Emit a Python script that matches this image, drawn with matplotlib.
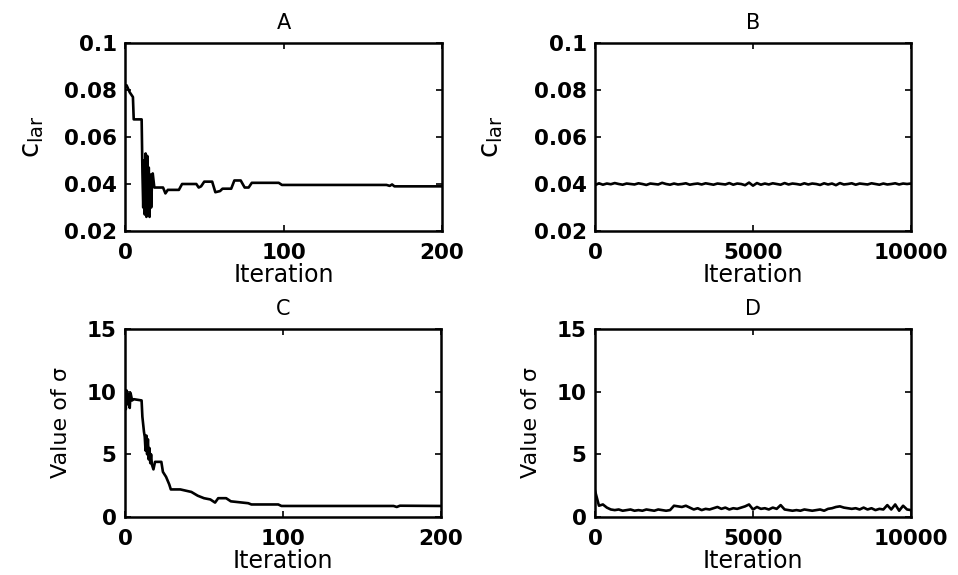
import numpy as np
import matplotlib
matplotlib.use('Agg')
import matplotlib.pyplot as plt

plt.rcParams['font.family'] = ['DejaVu Sans']
plt.rcParams['mathtext.fontset'] = 'dejavusans'

# panel A: c_lar over the first 200 iterations
a_iter = [0, 1, 2, 3, 4, 5, 5.5, 10.5, 11, 11.5, 12, 12.5, 13, 13.5, 14, 14.5, 15, 15.5,
          16, 16.5, 17, 17.5, 18.5, 24, 25.5, 27, 34, 36, 45, 46.5, 48, 50, 55, 57, 60,
          61.5, 67, 69, 73, 75.5, 78, 80, 97, 99, 165, 167, 168.5, 170, 200]
a_clar = [0.0815, 0.0820, 0.0805, 0.0790, 0.0780, 0.0770, 0.0675, 0.0675, 0.045, 0.030,
          0.050, 0.027, 0.053, 0.026, 0.052, 0.028, 0.047, 0.026, 0.044, 0.030, 0.040,
          0.0445, 0.0385, 0.0385, 0.0360, 0.0375, 0.0375, 0.0400, 0.0400, 0.0385, 0.0390,
          0.0410, 0.0410, 0.0365, 0.0370, 0.0380, 0.0380, 0.0415, 0.0415, 0.0385, 0.0385,
          0.0405, 0.0405, 0.0396, 0.0396, 0.0392, 0.0398, 0.0390, 0.0390]

# panel B: c_lar over 10000 iterations (sampled every 125)
b_clar = [0.0395, 0.0403, 0.0397, 0.0402, 0.0399, 0.0404, 0.0400, 0.0397, 0.0402, 0.0400,
          0.0398, 0.0403, 0.0400, 0.0396, 0.0402, 0.0400, 0.0398, 0.0405, 0.0400, 0.0397,
          0.0402, 0.0398, 0.0400, 0.0403, 0.0397, 0.0400, 0.0402, 0.0398, 0.0403, 0.0400,
          0.0397, 0.0402, 0.0400, 0.0398, 0.0404, 0.0397, 0.0402, 0.0400, 0.0395, 0.0406,
          0.0393, 0.0404, 0.0397, 0.0402, 0.0398, 0.0403, 0.0400, 0.0397, 0.0404, 0.0398,
          0.0402, 0.0400, 0.0397, 0.0403, 0.0398, 0.0402, 0.0400, 0.0396, 0.0403, 0.0398,
          0.0402, 0.0395, 0.0404, 0.0398, 0.0400, 0.0403, 0.0397, 0.0402, 0.0400, 0.0398,
          0.0403, 0.0400, 0.0397, 0.0402, 0.0398, 0.0400, 0.0403, 0.0398, 0.0402, 0.0400,
          0.0402]
b_iter = np.linspace(0, 10000, len(b_clar))

# panel C: sigma over the first 200 iterations
c_iter = [0, 0.5, 1, 1.5, 2, 3, 3.5, 4.5, 5.5, 10.5, 11, 12, 12.5, 13, 13.5, 14, 14.5, 15,
          15.5, 16, 16.5, 17, 18, 19, 23, 24, 26, 28, 29, 35, 42, 46, 50, 54, 57, 59, 64,
          67, 78, 80, 97, 99, 170, 172, 174, 200]
c_sigma = [10.0, 8.6, 10.1, 9.0, 9.8, 8.7, 9.9, 9.3, 9.4, 9.3, 8.0, 6.8, 6.4, 5.3, 6.5,
           5.0, 6.2, 4.6, 5.5, 4.3, 5.0, 4.2, 3.8, 4.4, 4.4, 3.6, 3.2, 2.6, 2.2, 2.2, 2.0,
           1.7, 1.5, 1.4, 1.15, 1.5, 1.5, 1.25, 1.1, 1.0, 1.0, 0.88, 0.88, 0.8, 0.9, 0.88]

# panel D: sigma over 10000 iterations (sampled every 125)
d_sigma = [2.1, 0.9, 1.0, 0.75, 0.6, 0.55, 0.6, 0.5, 0.55, 0.6, 0.5, 0.55, 0.5, 0.6, 0.55,
           0.5, 0.6, 0.55, 0.5, 0.55,
           0.9, 0.85, 0.8, 0.9, 0.75, 0.6, 0.7, 0.55, 0.65, 0.6, 0.7, 0.8, 0.65, 0.75, 0.6,
           0.7, 0.65, 0.75, 0.85, 1.0,
           0.6, 0.8, 0.65, 0.7, 0.6, 0.75, 0.65, 0.95, 0.6, 0.55, 0.5, 0.55, 0.5, 0.6, 0.55,
           0.5, 0.55, 0.6, 0.5, 0.65,
           0.7, 0.8, 0.85, 0.75, 0.7, 0.65, 0.7, 0.6, 0.75, 0.6, 0.7, 0.55, 0.65, 0.6, 0.95,
           0.6, 1.0, 0.5, 0.9, 0.6, 0.55]
d_iter = np.linspace(0, 10000, len(d_sigma))

clar_ticks = [0.02, 0.04, 0.06, 0.08, 0.1]
clar_labels = ['0.02', '0.04', '0.06', '0.08', '0.1']
sigma_ticks = [0, 5, 10, 15]
short_ticks = [0, 100, 200]
long_ticks = [0, 5000, 10000]

clar_name = r'c$_\mathregular{lar}$'
sigma_name = 'Value of σ'

fig = plt.figure(figsize=(9.58, 5.75), dpi=100)
W, H = 958, 575


def make_ax(left, top, right, bottom):
    return fig.add_axes([left / W, 1 - bottom / H, (right - left) / W, (bottom - top) / H])


ax_a = make_ax(125, 43, 442, 231)
ax_b = make_ax(595, 43, 911, 231)
ax_c = make_ax(125, 329, 441, 517)
ax_d = make_ax(595, 329, 911, 517)

ax_a.plot(a_iter, a_clar, color='black', lw=1.9)
ax_b.plot(b_iter, b_clar, color='black', lw=1.9)
ax_c.plot(c_iter, c_sigma, color='black', lw=1.9)
ax_d.plot(d_iter, d_sigma, color='black', lw=1.9)

for ax in (ax_a, ax_b):
    ax.set_ylim(0.02, 0.1)
    ax.set_yticks(clar_ticks)
    ax.set_yticklabels(clar_labels)
for ax in (ax_c, ax_d):
    ax.set_ylim(0, 15)
    ax.set_yticks(sigma_ticks)
for ax in (ax_a, ax_c):
    ax.set_xlim(0, 200)
    ax.set_xticks(short_ticks)
for ax in (ax_b, ax_d):
    ax.set_xlim(0, 10000)
    ax.set_xticks(long_ticks)

for ax, title in zip((ax_a, ax_b, ax_c, ax_d), 'ABCD'):
    ax.set_title(title, fontsize=15, pad=10)
    ax.set_xlabel('Iteration', fontsize=17, labelpad=0)
    ax.tick_params(direction='in', length=4, width=1.2, top=True, right=True,
                   labelsize=15.5)
    ax.tick_params(axis='x', pad=8.5)
    ax.tick_params(axis='y', pad=6)
    for lbl in ax.get_xticklabels() + ax.get_yticklabels():
        lbl.set_fontweight('bold')
    for sp in ax.spines.values():
        sp.set_linewidth(1.8)

ax_a.set_ylabel(clar_name, fontsize=20)
ax_b.set_ylabel(clar_name, fontsize=20)
ax_c.set_ylabel(sigma_name, fontsize=16)
ax_d.set_ylabel(sigma_name, fontsize=16)
ax_a.yaxis.set_label_coords(-0.25, 0.5)
ax_b.yaxis.set_label_coords(-0.285, 0.5)
ax_c.yaxis.set_label_coords(-0.17, 0.5)
ax_d.yaxis.set_label_coords(-0.17, 0.5)

fig.savefig('out.png', dpi=100)
